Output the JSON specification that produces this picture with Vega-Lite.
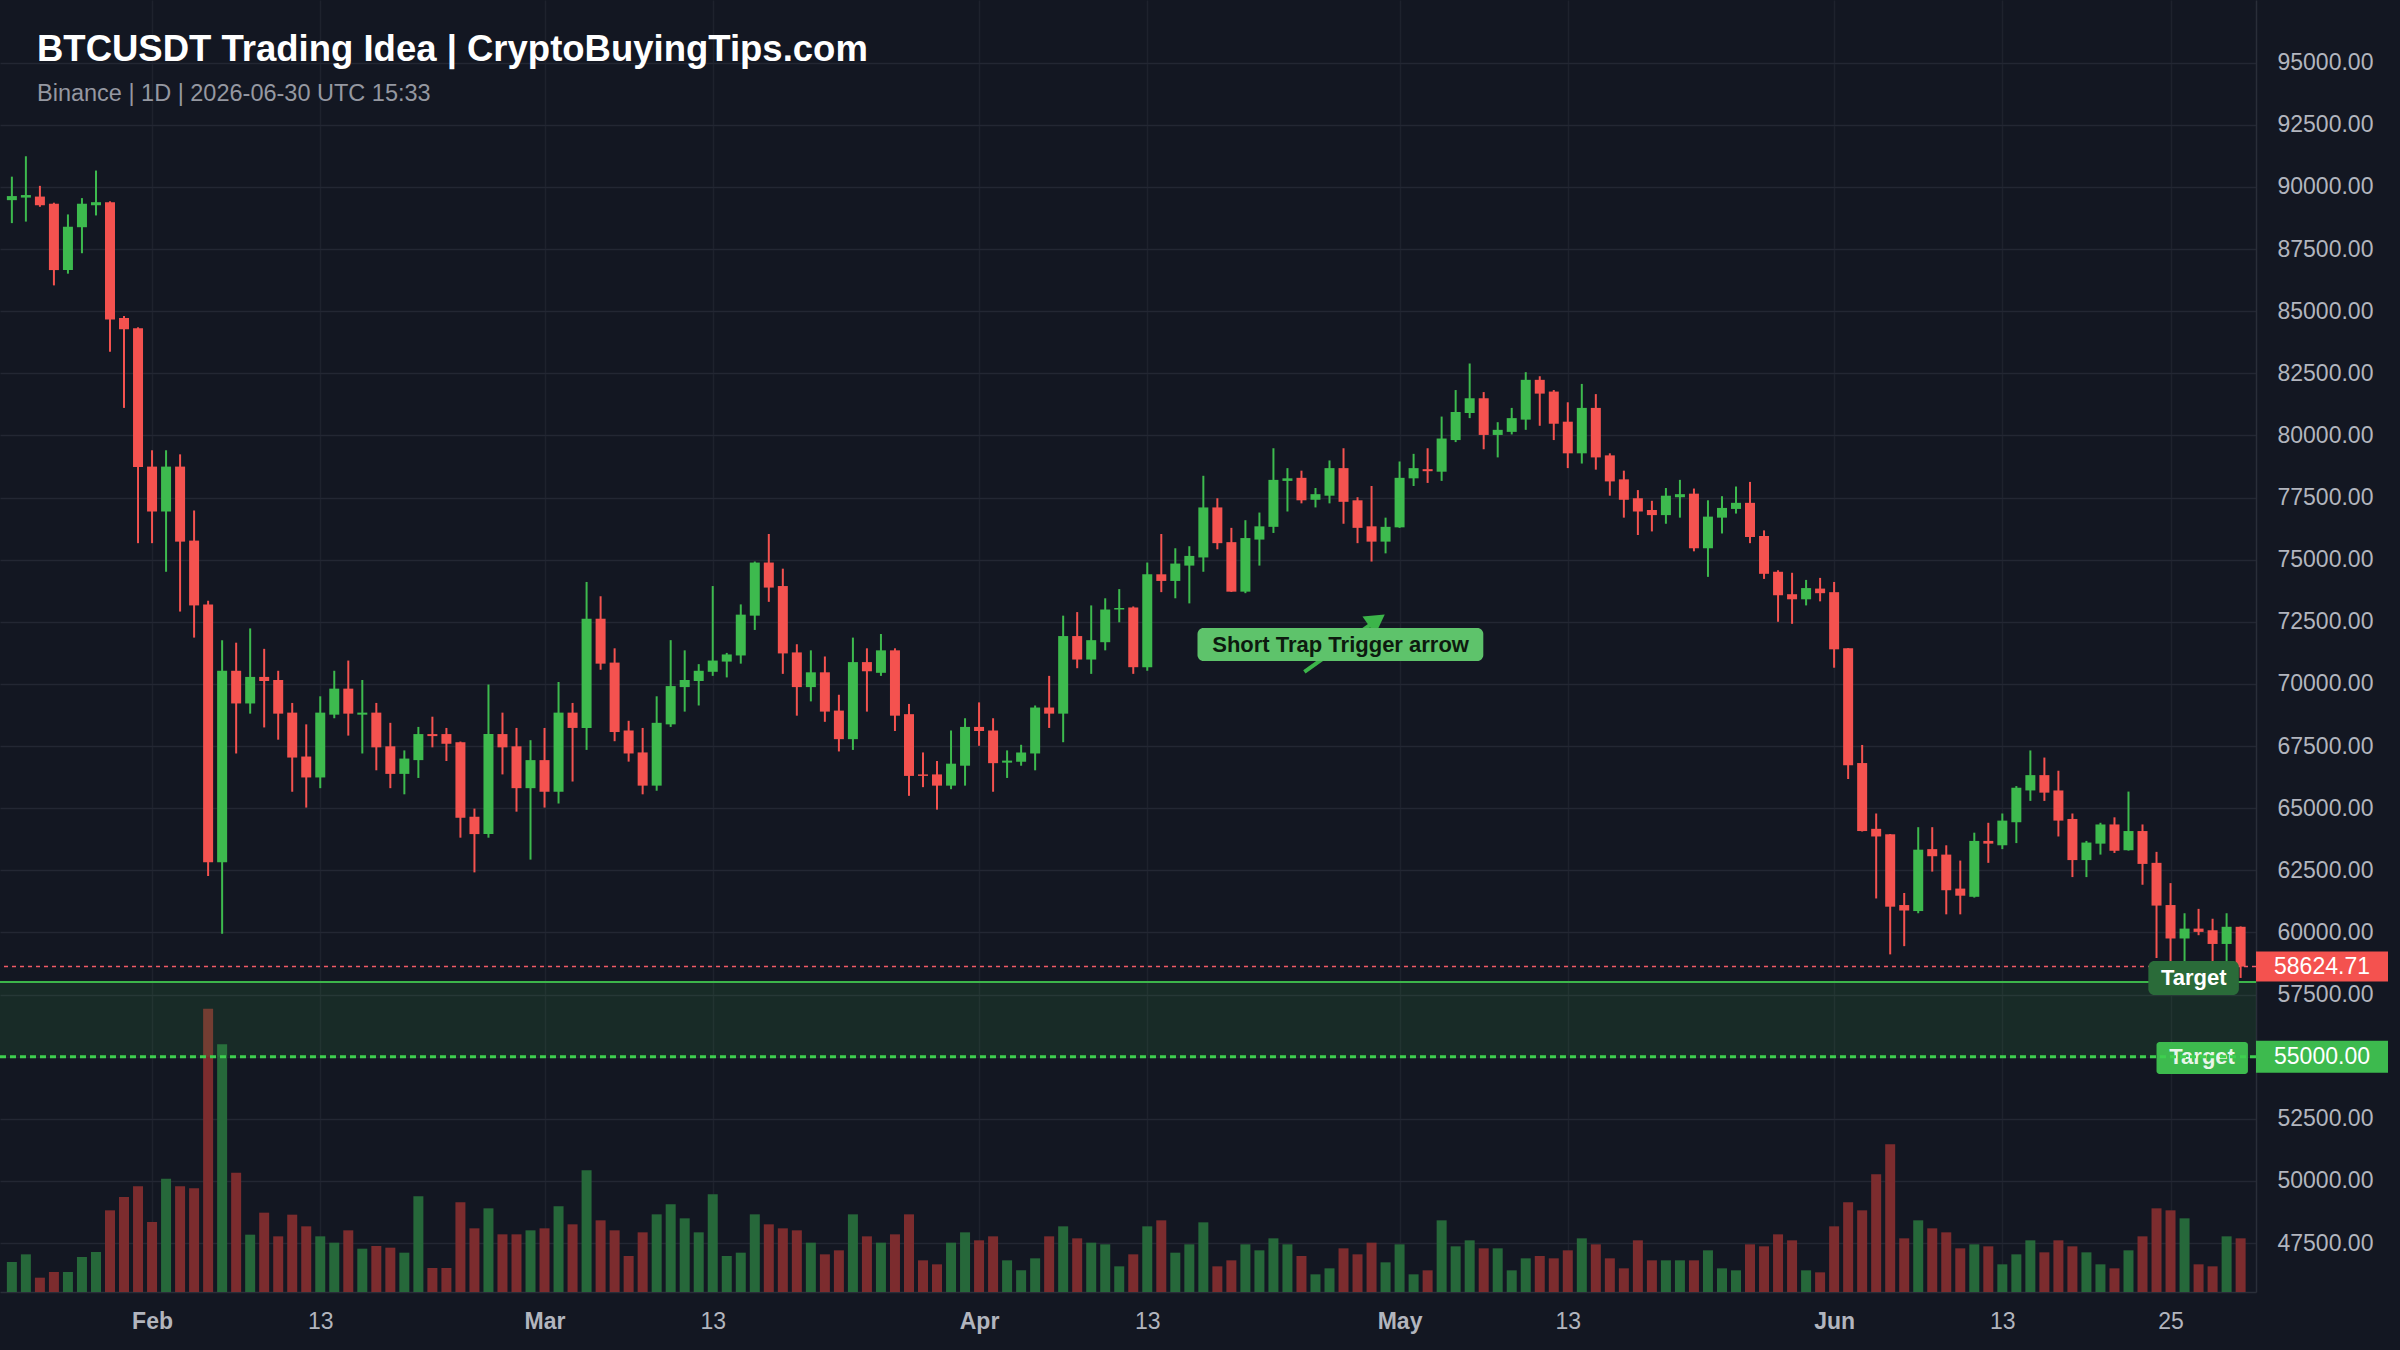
{
"$schema": "https://vega.github.io/schema/vega-lite/v6.json",
"width": 2256, "height": 1292,
"autosize": {"type": "none"},
"padding": {"left": 0, "top": 0, "right": 144, "bottom": 58},
"background": "#131722",
"config": {"view": {"stroke": null}, "font": "Liberation Sans"},
"title": {"text": "BTCUSDT Trading Idea | CryptoBuyingTips.com", "subtitle": "Binance | 1D | 2026-06-30 UTC 15:33", "anchor": "start", "frame": "group", "orient": "top", "offset": -105, "dx": 37, "fontSize": 36.5, "fontWeight": "bold", "color": "#ffffff", "subtitleFontSize": 23.5, "subtitleColor": "#9598a1", "subtitlePadding": 13, "font": "Liberation Sans", "subtitleFont": "Liberation Sans"},
"datasets": {
"ohlc": [
{"d":"2026-01-22","o":89466,"h":90411,"l":88542,"c":89630,"v":2250},
{"d":"2026-01-23","o":89569,"h":91232,"l":88603,"c":89671,"v":2825},
{"d":"2026-01-24","o":89610,"h":90041,"l":89199,"c":89261,"v":1075},
{"d":"2026-01-25","o":89322,"h":89363,"l":86036,"c":86652,"v":1500},
{"d":"2026-01-26","o":86652,"h":88891,"l":86508,"c":88398,"v":1500},
{"d":"2026-01-27","o":88377,"h":89548,"l":87330,"c":89322,"v":2625},
{"d":"2026-01-28","o":89261,"h":90657,"l":88850,"c":89384,"v":3000},
{"d":"2026-01-29","o":89384,"h":89420,"l":83366,"c":84660,"v":6125},
{"d":"2026-01-30","o":84721,"h":84804,"l":81106,"c":84270,"v":7125},
{"d":"2026-01-31","o":84311,"h":84350,"l":75663,"c":78724,"v":7925},
{"d":"2026-02-01","o":78744,"h":79401,"l":75663,"c":76937,"v":5250},
{"d":"2026-02-02","o":76937,"h":79401,"l":74512,"c":78744,"v":8500},
{"d":"2026-02-03","o":78744,"h":79237,"l":72911,"c":75725,"v":7925},
{"d":"2026-02-04","o":75766,"h":76978,"l":71863,"c":73158,"v":7775},
{"d":"2026-02-05","o":73199,"h":73343,"l":62272,"c":62826,"v":21250},
{"d":"2026-02-06","o":62826,"h":71760,"l":59949,"c":70528,"v":18575},
{"d":"2026-02-07","o":70528,"h":71658,"l":67200,"c":69213,"v":8950},
{"d":"2026-02-08","o":69213,"h":72233,"l":68803,"c":70281,"v":4300},
{"d":"2026-02-09","o":70281,"h":71411,"l":68248,"c":70117,"v":5950},
{"d":"2026-02-10","o":70158,"h":70528,"l":67755,"c":68803,"v":4175},
{"d":"2026-02-11","o":68844,"h":69234,"l":65660,"c":67036,"v":5800},
{"d":"2026-02-12","o":67077,"h":68372,"l":65023,"c":66235,"v":4925},
{"d":"2026-02-13","o":66235,"h":69501,"l":65804,"c":68844,"v":4175},
{"d":"2026-02-14","o":68762,"h":70528,"l":68618,"c":69809,"v":3700},
{"d":"2026-02-15","o":69809,"h":70939,"l":67919,"c":68803,"v":4625},
{"d":"2026-02-16","o":68762,"h":70158,"l":67200,"c":68844,"v":3250},
{"d":"2026-02-17","o":68844,"h":69234,"l":66523,"c":67447,"v":3450},
{"d":"2026-02-18","o":67488,"h":68434,"l":65804,"c":66379,"v":3325},
{"d":"2026-02-19","o":66379,"h":67324,"l":65557,"c":66995,"v":2950},
{"d":"2026-02-20","o":66933,"h":68269,"l":66215,"c":67981,"v":7175},
{"d":"2026-02-21","o":67981,"h":68680,"l":67447,"c":67899,"v":1800},
{"d":"2026-02-22","o":67981,"h":68228,"l":66898,"c":67591,"v":1800},
{"d":"2026-02-23","o":67653,"h":67680,"l":63812,"c":64613,"v":6725},
{"d":"2026-02-24","o":64654,"h":64982,"l":62416,"c":63956,"v":4775},
{"d":"2026-02-25","o":63956,"h":69974,"l":63812,"c":67981,"v":6275},
{"d":"2026-02-26","o":67981,"h":68844,"l":66358,"c":67447,"v":4325},
{"d":"2026-02-27","o":67488,"h":68228,"l":64859,"c":65804,"v":4325},
{"d":"2026-02-28","o":65804,"h":67735,"l":62929,"c":66933,"v":4625},
{"d":"2026-03-01","o":66933,"h":68228,"l":65023,"c":65660,"v":4775},
{"d":"2026-03-02","o":65660,"h":70076,"l":65187,"c":68844,"v":6425},
{"d":"2026-03-03","o":68844,"h":69234,"l":66071,"c":68228,"v":5075},
{"d":"2026-03-04","o":68228,"h":74102,"l":67344,"c":72623,"v":9125},
{"d":"2026-03-05","o":72623,"h":73527,"l":70569,"c":70815,"v":5375},
{"d":"2026-03-06","o":70857,"h":71432,"l":67694,"c":68063,"v":4625},
{"d":"2026-03-07","o":68125,"h":68515,"l":66872,"c":67200,"v":2700},
{"d":"2026-03-08","o":67242,"h":68228,"l":65557,"c":65906,"v":4475},
{"d":"2026-03-09","o":65906,"h":69501,"l":65701,"c":68434,"v":5825},
{"d":"2026-03-10","o":68372,"h":71760,"l":68269,"c":69912,"v":6575},
{"d":"2026-03-11","o":69871,"h":71350,"l":68885,"c":70158,"v":5525},
{"d":"2026-03-12","o":70117,"h":70795,"l":69131,"c":70528,"v":4475},
{"d":"2026-03-13","o":70487,"h":73938,"l":70323,"c":70939,"v":7325},
{"d":"2026-03-14","o":70898,"h":71247,"l":70261,"c":71185,"v":2700},
{"d":"2026-03-15","o":71144,"h":73199,"l":70815,"c":72787,"v":2950},
{"d":"2026-03-16","o":72746,"h":74924,"l":72171,"c":74883,"v":5825},
{"d":"2026-03-17","o":74883,"h":76033,"l":73302,"c":73876,"v":5075},
{"d":"2026-03-18","o":73938,"h":74637,"l":70404,"c":71226,"v":4775},
{"d":"2026-03-19","o":71267,"h":71596,"l":68721,"c":69871,"v":4625},
{"d":"2026-03-20","o":69871,"h":71350,"l":69296,"c":70466,"v":3700},
{"d":"2026-03-21","o":70466,"h":71103,"l":68474,"c":68885,"v":2825},
{"d":"2026-03-22","o":68926,"h":69563,"l":67282,"c":67776,"v":3125},
{"d":"2026-03-23","o":67776,"h":71863,"l":67344,"c":70877,"v":5825},
{"d":"2026-03-24","o":70877,"h":71432,"l":68885,"c":70508,"v":4175},
{"d":"2026-03-25","o":70446,"h":72007,"l":70323,"c":71350,"v":3700},
{"d":"2026-03-26","o":71350,"h":71432,"l":68104,"c":68721,"v":4325},
{"d":"2026-03-27","o":68782,"h":69193,"l":65495,"c":66297,"v":5825},
{"d":"2026-03-28","o":66358,"h":67242,"l":65845,"c":66297,"v":2375},
{"d":"2026-03-29","o":66358,"h":66898,"l":64941,"c":65906,"v":2075},
{"d":"2026-03-30","o":65906,"h":68125,"l":65763,"c":66790,"v":3700},
{"d":"2026-03-31","o":66708,"h":68618,"l":65906,"c":68269,"v":4475},
{"d":"2026-04-01","o":68269,"h":69255,"l":67509,"c":68104,"v":3875},
{"d":"2026-04-02","o":68125,"h":68618,"l":65660,"c":66810,"v":4175},
{"d":"2026-04-03","o":66831,"h":67324,"l":66215,"c":66913,"v":2375},
{"d":"2026-04-04","o":66872,"h":67550,"l":66708,"c":67242,"v":1625},
{"d":"2026-04-05","o":67200,"h":69131,"l":66523,"c":69049,"v":2525},
{"d":"2026-04-06","o":69049,"h":70323,"l":68228,"c":68803,"v":4175},
{"d":"2026-04-07","o":68803,"h":72746,"l":67653,"c":71925,"v":4925},
{"d":"2026-04-08","o":71925,"h":72890,"l":70631,"c":70980,"v":4025},
{"d":"2026-04-09","o":70980,"h":73158,"l":70404,"c":71760,"v":3700},
{"d":"2026-04-10","o":71678,"h":73445,"l":71350,"c":72993,"v":3575},
{"d":"2026-04-11","o":72993,"h":73815,"l":72479,"c":73055,"v":1925},
{"d":"2026-04-12","o":73075,"h":73116,"l":70404,"c":70672,"v":2825},
{"d":"2026-04-13","o":70672,"h":74883,"l":70528,"c":74410,"v":4925},
{"d":"2026-04-14","o":74410,"h":76033,"l":73692,"c":74143,"v":5375},
{"d":"2026-04-15","o":74143,"h":75458,"l":73445,"c":74842,"v":2950},
{"d":"2026-04-16","o":74760,"h":75540,"l":73240,"c":75150,"v":3575},
{"d":"2026-04-17","o":75088,"h":78374,"l":74512,"c":77101,"v":5225},
{"d":"2026-04-18","o":77101,"h":77471,"l":75417,"c":75663,"v":1925},
{"d":"2026-04-19","o":75704,"h":76279,"l":73700,"c":73712,"v":2375},
{"d":"2026-04-20","o":73712,"h":76587,"l":73651,"c":75869,"v":3575},
{"d":"2026-04-21","o":75807,"h":76895,"l":74760,"c":76341,"v":3125},
{"d":"2026-04-22","o":76320,"h":79483,"l":76074,"c":78210,"v":4025},
{"d":"2026-04-23","o":78169,"h":78683,"l":76937,"c":78272,"v":3575},
{"d":"2026-04-24","o":78292,"h":78580,"l":77265,"c":77388,"v":2700},
{"d":"2026-04-25","o":77409,"h":77882,"l":77101,"c":77635,"v":1325},
{"d":"2026-04-26","o":77573,"h":78991,"l":77265,"c":78683,"v":1775},
{"d":"2026-04-27","o":78683,"h":79483,"l":76444,"c":77327,"v":3275},
{"d":"2026-04-28","o":77388,"h":77512,"l":75663,"c":76279,"v":2825},
{"d":"2026-04-29","o":76341,"h":77964,"l":74924,"c":75725,"v":3700},
{"d":"2026-04-30","o":75725,"h":76690,"l":75253,"c":76320,"v":2225},
{"d":"2026-05-01","o":76300,"h":78950,"l":76279,"c":78292,"v":3575},
{"d":"2026-05-02","o":78272,"h":79257,"l":77964,"c":78683,"v":1325},
{"d":"2026-05-03","o":78641,"h":79483,"l":78087,"c":78559,"v":1625},
{"d":"2026-05-04","o":78539,"h":80757,"l":78169,"c":79874,"v":5375},
{"d":"2026-05-05","o":79812,"h":81825,"l":79730,"c":80942,"v":3425},
{"d":"2026-05-06","o":80901,"h":82893,"l":80695,"c":81494,"v":3875},
{"d":"2026-05-07","o":81494,"h":81743,"l":79442,"c":80018,"v":3275},
{"d":"2026-05-08","o":80018,"h":80531,"l":79114,"c":80223,"v":3275},
{"d":"2026-05-09","o":80141,"h":81106,"l":80038,"c":80695,"v":1625},
{"d":"2026-05-10","o":80634,"h":82544,"l":80223,"c":82236,"v":2525},
{"d":"2026-05-11","o":82236,"h":82380,"l":80387,"c":81681,"v":2700},
{"d":"2026-05-12","o":81763,"h":81825,"l":79812,"c":80469,"v":2525},
{"d":"2026-05-13","o":80551,"h":81332,"l":78683,"c":79278,"v":3125},
{"d":"2026-05-14","o":79278,"h":82071,"l":78867,"c":81106,"v":4025},
{"d":"2026-05-15","o":81106,"h":81661,"l":78621,"c":79114,"v":3575},
{"d":"2026-05-16","o":79196,"h":79278,"l":77573,"c":78148,"v":2525},
{"d":"2026-05-17","o":78231,"h":78580,"l":76690,"c":77409,"v":1775},
{"d":"2026-05-18","o":77471,"h":77799,"l":75992,"c":76937,"v":3875},
{"d":"2026-05-19","o":76998,"h":77368,"l":76135,"c":76792,"v":2375},
{"d":"2026-05-20","o":76792,"h":77882,"l":76444,"c":77573,"v":2375},
{"d":"2026-05-21","o":77512,"h":78210,"l":76690,"c":77635,"v":2375},
{"d":"2026-05-22","o":77655,"h":77861,"l":75335,"c":75458,"v":2375},
{"d":"2026-05-23","o":75458,"h":77388,"l":74307,"c":76731,"v":3125},
{"d":"2026-05-24","o":76690,"h":77553,"l":76053,"c":77081,"v":1775},
{"d":"2026-05-25","o":77040,"h":77943,"l":76854,"c":77286,"v":1625},
{"d":"2026-05-26","o":77286,"h":78128,"l":75663,"c":75910,"v":3575},
{"d":"2026-05-27","o":75951,"h":76177,"l":74225,"c":74430,"v":3425},
{"d":"2026-05-28","o":74512,"h":74574,"l":72500,"c":73567,"v":4325},
{"d":"2026-05-29","o":73609,"h":74472,"l":72418,"c":73404,"v":3875},
{"d":"2026-05-30","o":73404,"h":74184,"l":73158,"c":73856,"v":1625},
{"d":"2026-05-31","o":73835,"h":74266,"l":73322,"c":73650,"v":1475},
{"d":"2026-06-01","o":73691,"h":74102,"l":70651,"c":71391,"v":4925},
{"d":"2026-06-02","o":71432,"h":71440,"l":66173,"c":66728,"v":6725},
{"d":"2026-06-03","o":66815,"h":67543,"l":64060,"c":64079,"v":6125},
{"d":"2026-06-04","o":64168,"h":64785,"l":61366,"c":63860,"v":8825},
{"d":"2026-06-05","o":63948,"h":63960,"l":59116,"c":61035,"v":11075},
{"d":"2026-06-06","o":61101,"h":61586,"l":59447,"c":60881,"v":4025},
{"d":"2026-06-07","o":60859,"h":64234,"l":60771,"c":63329,"v":5375},
{"d":"2026-06-08","o":63351,"h":64234,"l":62447,"c":63065,"v":4775},
{"d":"2026-06-09","o":63131,"h":63506,"l":60727,"c":61697,"v":4475},
{"d":"2026-06-10","o":61763,"h":62889,"l":60727,"c":61477,"v":3275},
{"d":"2026-06-11","o":61433,"h":64013,"l":61400,"c":63682,"v":3575},
{"d":"2026-06-12","o":63682,"h":64411,"l":62799,"c":63572,"v":3425},
{"d":"2026-06-13","o":63506,"h":64785,"l":63351,"c":64499,"v":2075},
{"d":"2026-06-14","o":64433,"h":65888,"l":63594,"c":65822,"v":2825},
{"d":"2026-06-15","o":65712,"h":67322,"l":65292,"c":66329,"v":3875},
{"d":"2026-06-16","o":66329,"h":67036,"l":65292,"c":65624,"v":2975},
{"d":"2026-06-17","o":65712,"h":66506,"l":63860,"c":64499,"v":3875},
{"d":"2026-06-18","o":64565,"h":64785,"l":62226,"c":62910,"v":3425},
{"d":"2026-06-19","o":62910,"h":63682,"l":62226,"c":63616,"v":2975},
{"d":"2026-06-20","o":63572,"h":64411,"l":63131,"c":64344,"v":2075},
{"d":"2026-06-21","o":64344,"h":64631,"l":63197,"c":63285,"v":1775},
{"d":"2026-06-22","o":63307,"h":65667,"l":63290,"c":64079,"v":3125},
{"d":"2026-06-23","o":64079,"h":64344,"l":61918,"c":62756,"v":4175},
{"d":"2026-06-24","o":62799,"h":63241,"l":58970,"c":61079,"v":6275},
{"d":"2026-06-25","o":61101,"h":61984,"l":58609,"c":59755,"v":6125},
{"d":"2026-06-26","o":59755,"h":60771,"l":58609,"c":60153,"v":5525},
{"d":"2026-06-27","o":60153,"h":60947,"l":59887,"c":60021,"v":2075},
{"d":"2026-06-28","o":60087,"h":60550,"l":58609,"c":59535,"v":1925},
{"d":"2026-06-29","o":59535,"h":60771,"l":58719,"c":60226,"v":4175},
{"d":"2026-06-30","o":60226,"h":60240,"l":58168,"c":58624.71,"v":4025}
]
},
"layer": [
{
"data": {"name": "ohlc"},
"mark": {"type": "bar", "width": 10},
"encoding": {
"x": {"field": "d", "type": "temporal",
"scale": {"type": "utc", "domain": [{"year": 2026, "month": 1, "date": 21, "hours": 12, "minutes": 14, "utc": true}, {"year": 2026, "month": 6, "date": 30, "hours": 17, "minutes": 46, "utc": true}]},
"axis": {"title": null,
"values": [{"year":2026,"month":2,"date":1,"utc":true},{"year":2026,"month":2,"date":13,"utc":true},{"year":2026,"month":3,"date":1,"utc":true},{"year":2026,"month":3,"date":13,"utc":true},{"year":2026,"month":4,"date":1,"utc":true},{"year":2026,"month":4,"date":13,"utc":true},{"year":2026,"month":5,"date":1,"utc":true},{"year":2026,"month":5,"date":13,"utc":true},{"year":2026,"month":6,"date":1,"utc":true},{"year":2026,"month":6,"date":13,"utc":true},{"year":2026,"month":6,"date":25,"utc":true}],
"labelExpr": "utcdate(datum.value) == 1 ? utcFormat(datum.value, '%b') : utcFormat(datum.value, '%-d')",
"labelFontWeight": {"condition": {"test": "utcdate(datum.value) == 1", "value": "bold"}, "value": "normal"},
"grid": true, "gridColor": "#1e222d", "gridWidth": 1.5,
"domain": true, "domainColor": "#2a2e39", "domainWidth": 1.5,
"ticks": false, "labelFontSize": 23, "labelColor": "#b2b5be", "labelPadding": 18, "labelFlush": false, "labelOverlap": false}},
"y": {"field": "v", "type": "quantitative", "scale": {"domain": [0, 96900], "nice": false, "zero": true}, "axis": null},
"color": {"condition": {"test": "datum.c >= datum.o", "value": "#26683a"}, "value": "#7c2c2e"}
}
},
{
"layer": [
{
"data": {"values": [{"lo": 55000, "hi": 58000}]},
"mark": {"type": "rect", "color": "#3cb54a", "opacity": 0.13},
"encoding": {
"y": {"field": "lo", "type": "quantitative",
"scale": {"domain": [45530, 97520], "nice": false, "zero": false},
"axis": {"orient": "right", "title": null, "values": [47500,50000,52500,55000,57500,60000,62500,65000,67500,70000,72500,75000,77500,80000,82500,85000,87500,90000,92500,95000], "format": ".2f", "grid": true, "gridColor": "#232733", "gridWidth": 1.5, "domain": true, "domainColor": "#2a2e39", "domainWidth": 1.5, "ticks": false, "labelFontSize": 23, "labelColor": "#b2b5be", "labelPadding": 21, "labelFlush": false, "labelOverlap": false}},
"y2": {"field": "hi"}
}
},
{
"data": {"values": [{"p": 58000}]},
"mark": {"type": "rule", "color": "#3cb54a", "strokeWidth": 2},
"encoding": {"y": {"field": "p", "type": "quantitative"}}
},
{
"data": {"name": "ohlc"},
"mark": {"type": "rule", "strokeWidth": 2},
"encoding": {
"x": {"field": "d", "type": "temporal"},
"y": {"field": "l", "type": "quantitative"},
"y2": {"field": "h"},
"color": {"condition": {"test": "datum.c >= datum.o", "value": "#3dba4e"}, "value": "#f4524f"}
}
},
{
"data": {"name": "ohlc"},
"mark": {"type": "bar", "width": 10},
"encoding": {
"x": {"field": "d", "type": "temporal"},
"y": {"field": "o", "type": "quantitative"},
"y2": {"field": "c"},
"color": {"condition": {"test": "datum.c >= datum.o", "value": "#3dba4e"}, "value": "#f4524f"}
}
},
{
"data": {"values": [{"p": 58624.71}]},
"mark": {"type": "rule", "color": "#f05a66", "strokeWidth": 1.5, "strokeDash": [4, 4]},
"encoding": {"y": {"field": "p", "type": "quantitative"}}
},
{
"data": {"values": [{"xa": "2026-04-24T05:00:00Z", "xb": "2026-04-29T09:00:00Z", "ya": 70479, "yb": 72571}]},
"mark": {"type": "rule", "color": "#3cb54a", "strokeWidth": 4},
"encoding": {
"x": {"field": "xa", "type": "temporal"}, "x2": {"field": "xb"},
"y": {"field": "ya", "type": "quantitative"}, "y2": {"field": "yb"}
}
},
{
"data": {"values": [{"xb": "2026-04-29T09:00:00Z", "yb": 72571}]},
"mark": {"type": "point", "shape": "triangle-up", "filled": true, "size": 500, "angle": 55, "color": "#3cb54a", "opacity": 1},
"encoding": {
"x": {"field": "xb", "type": "temporal"},
"y": {"field": "yb", "type": "quantitative"}
}
},
{
"data": {"values": [{"xa": "2026-04-16T14:00:00Z", "xb": "2026-05-06T23:20:00Z", "ya": 70921, "yb": 72249}]},
"mark": {"type": "rect", "color": "#5ec36b", "cornerRadius": 6},
"encoding": {
"x": {"field": "xa", "type": "temporal"}, "x2": {"field": "xb"},
"y": {"field": "ya", "type": "quantitative"}, "y2": {"field": "yb"}
}
},
{
"data": {"values": [{"xt": "2026-04-26T19:00:00Z", "yt": 71585, "label": "Short Trap Trigger arrow"}]},
"mark": {"type": "text", "color": "#0d1a0f", "fontSize": 22, "fontWeight": "bold", "align": "center", "baseline": "middle", "font": "Liberation Sans"},
"encoding": {
"x": {"field": "xt", "type": "temporal"},
"y": {"field": "yt", "type": "quantitative"},
"text": {"field": "label"}
}
},
{
"data": {"values": [{"xa": "2026-06-23T10:00:00Z", "xb": "2026-06-29T21:00:00Z", "ya": 57481, "yb": 58849}]},
"mark": {"type": "rect", "color": "#2a6b39", "cornerRadius": 6},
"encoding": {
"x": {"field": "xa", "type": "temporal"}, "x2": {"field": "xb"},
"y": {"field": "ya", "type": "quantitative"}, "y2": {"field": "yb"}
}
},
{
"data": {"values": [{"xt": "2026-06-26T15:40:00Z", "yt": 58166, "label": "Target"}]},
"mark": {"type": "text", "color": "#ffffff", "fontSize": 22, "fontWeight": "bold", "align": "center", "baseline": "middle", "font": "Liberation Sans"},
"encoding": {
"x": {"field": "xt", "type": "temporal"},
"y": {"field": "yt", "type": "quantitative"},
"text": {"field": "label"}
}
},
{
"data": {"values": [{"xa": "2026-06-24T00:00:00Z", "xb": "2026-06-30T12:30:00Z", "ya": 54303, "yb": 55590}]},
"mark": {"type": "rect", "color": "#3dba4e", "cornerRadius": 3},
"encoding": {
"x": {"field": "xa", "type": "temporal"}, "x2": {"field": "xb"},
"y": {"field": "ya", "type": "quantitative"}, "y2": {"field": "yb"}
}
},
{
"data": {"values": [{"xt": "2026-06-27T06:00:00Z", "yt": 55000, "label": "Target"}]},
"mark": {"type": "text", "color": "#e8f5e9", "fontSize": 22, "fontWeight": "bold", "align": "center", "baseline": "middle", "font": "Liberation Sans"},
"encoding": {
"x": {"field": "xt", "type": "temporal"},
"y": {"field": "yt", "type": "quantitative"},
"text": {"field": "label"}
}
},
{
"data": {"values": [{"p": 55000}]},
"mark": {"type": "rule", "color": "#3ecf4f", "strokeWidth": 3, "strokeDash": [6, 4]},
"encoding": {"y": {"field": "p", "type": "quantitative"}}
},
{
"data": {"values": [{"p": 58624.71}]},
"mark": {"type": "rect", "color": "#f4524f", "yOffset": -15, "y2Offset": 15, "x2Offset": 132},
"encoding": {
"x": {"value": "width"}, "x2": {"value": "width"},
"y": {"field": "p", "type": "quantitative"}, "y2": {"field": "p"}
}
},
{
"data": {"values": [{"p": 55000}]},
"mark": {"type": "rect", "color": "#3dba4e", "yOffset": -16, "y2Offset": 16, "x2Offset": 132},
"encoding": {
"x": {"value": "width"}, "x2": {"value": "width"},
"y": {"field": "p", "type": "quantitative"}, "y2": {"field": "p"}
}
},
{
"data": {"values": [{"p": 58624.71}, {"p": 55000}]},
"mark": {"type": "text", "color": "#ffffff", "fontSize": 23, "align": "center", "baseline": "middle", "dx": 66, "font": "Liberation Sans"},
"encoding": {
"x": {"value": "width"},
"y": {"field": "p", "type": "quantitative"},
"text": {"field": "p", "type": "quantitative", "format": ".2f"}
}
}
]
}
],
"resolve": {"scale": {"y": "independent"}}
}
